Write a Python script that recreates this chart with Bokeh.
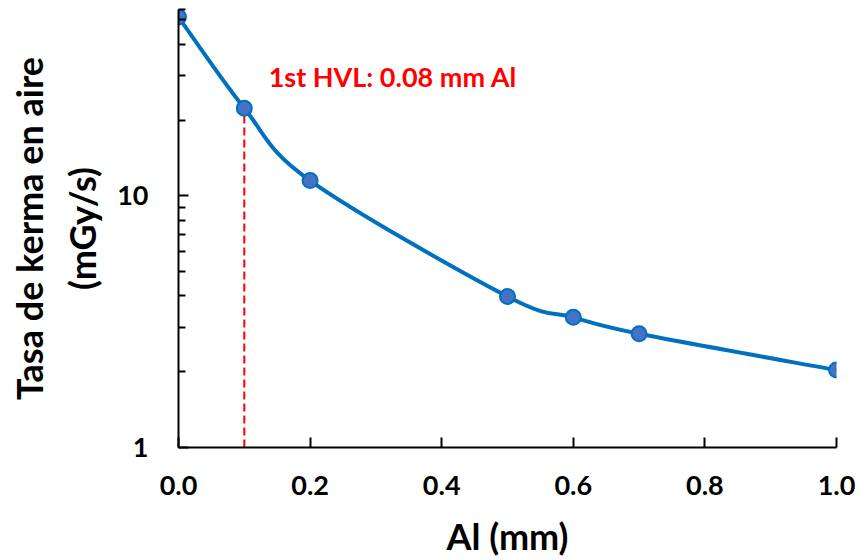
import numpy as np
from bokeh.plotting import figure
from bokeh.models import FixedTicker, Range1d, ColumnDataSource, CustomJSTickFormatter
from bokeh.core.properties import value
from bokeh.embed import file_html
from bokeh.resources import INLINE

# Data
al_mm = [0.0, 0.1, 0.2, 0.5, 0.6, 0.7, 1.0]
kerma = [51.3, 22.3, 11.5, 3.98, 3.29, 2.83, 2.03]
hvl_x = 0.1
hvl_label = "1st HVL: 0.08 mm Al"
x_ticks = [0.0, 0.2, 0.4, 0.6, 0.8, 1.0]
y_major = [1, 10]
y_minor = [2, 3, 4, 5, 6, 7, 8, 9, 20, 30, 40, 50, 55]

FONT = "Lato"

p = figure(width=862, height=560, output_backend="svg", toolbar_location=None,
           y_axis_type="log",
           x_range=Range1d(0, 1.0), y_range=Range1d(1, 55),
           min_border_left=178, min_border_right=26, min_border_top=9, min_border_bottom=112)
p.outline_line_color = None
p.xgrid.visible = False
p.ygrid.visible = False
p.background_fill_color = "white"
p.border_fill_color = "white"

# Smoothed curve (Catmull-Rom style in x / log10(y) space)
xs = np.array(al_mm, dtype=float)
ls = np.log10(np.array(kerma, dtype=float))
n = len(xs)
x0, y0, x1, y1, cx0, cy0, cx1, cy1 = [], [], [], [], [], [], [], []
for i in range(n - 1):
    im1 = max(i - 1, 0)
    ip2 = min(i + 2, n - 1)
    c0x = xs[i] + (xs[i + 1] - xs[im1]) / 6.0
    c0y = ls[i] + (ls[i + 1] - ls[im1]) / 6.0
    c1x = xs[i + 1] - (xs[ip2] - xs[i]) / 6.0
    c1y = ls[i + 1] - (ls[ip2] - ls[i]) / 6.0
    x0.append(xs[i]); y0.append(10 ** ls[i])
    x1.append(xs[i + 1]); y1.append(10 ** ls[i + 1])
    cx0.append(c0x); cy0.append(10 ** c0y)
    cx1.append(c1x); cy1.append(10 ** c1y)

bz = ColumnDataSource(dict(x0=x0, y0=y0, x1=x1, y1=y1, cx0=cx0, cy0=cy0, cx1=cx1, cy1=cy1))

# HVL dashed line
hvl_y = kerma[al_mm.index(hvl_x)]
p.segment(x0=[hvl_x], y0=[1], x1=[hvl_x], y1=[hvl_y], line_color="#FF0000",
          line_width=2, line_dash="8 4")

p.bezier(x0="x0", y0="y0", x1="x1", y1="y1", cx0="cx0", cy0="cy0", cx1="cx1", cy1="cy1",
         source=bz, line_color="#0070C0", line_width=4)
p.scatter(al_mm, kerma, size=15, fill_color="#4472C4", line_color="#0070C0", line_width=2)

p.text(x=[0.137], y=[29.7], text=[hvl_label], text_color="#FF0000",
       text_font=value(FONT), text_font_style="bold", text_font_size="27px",
       text_align="left", text_baseline="middle")

# Axes
xa = p.xaxis[0]
xa.ticker = FixedTicker(ticks=x_ticks)
xa.formatter = CustomJSTickFormatter(code="return tick.toFixed(1);")
xa.axis_label = "Al (mm)"
ya = p.yaxis[0]
ya.ticker = FixedTicker(ticks=y_major, minor_ticks=y_minor)
ya.formatter = CustomJSTickFormatter(code="return tick.toFixed(0);")
ya.axis_label = "Tasa de kerma en aire\n(mGy/s)"

for ax in (xa, ya):
    ax.axis_line_color = "black"
    ax.axis_line_width = 2
    ax.major_tick_line_color = "black"
    ax.major_tick_line_width = 2
    ax.major_tick_in = 10
    ax.major_tick_out = 0
    ax.minor_tick_line_color = "black"
    ax.minor_tick_line_width = 2
    ax.minor_tick_in = 7
    ax.minor_tick_out = 0
    ax.major_label_text_font = FONT
    ax.major_label_text_font_style = "bold"
    ax.major_label_text_font_size = "27px"
    ax.major_label_text_color = "black"
    ax.axis_label_text_font = FONT
    ax.axis_label_text_font_style = "bold"
    ax.axis_label_text_font_size = "36px"
    ax.axis_label_text_color = "black"

xa.minor_tick_in = 0
xa.major_label_standoff = 28
xa.axis_label_standoff = 16
ya.major_label_standoff = 30
ya.axis_label_standoff = 10

open("out.html", "w").write(file_html(p, INLINE))
